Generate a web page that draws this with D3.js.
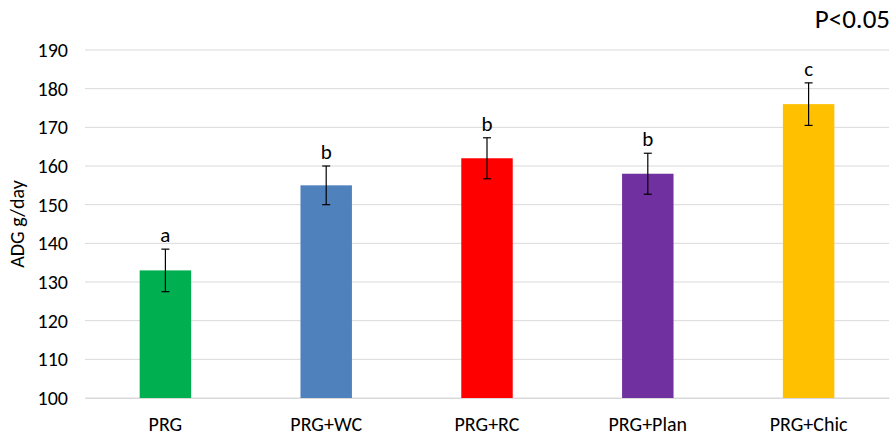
<!DOCTYPE html>
<html>
<head>
<meta charset="utf-8">
<script src="https://cdn.jsdelivr.net/npm/d3@7"></script>
<style>
  body { margin: 0; background: #fff; }
  svg text { font-family: Carlito, Lato, "Open Sans", sans-serif; fill: #000; }
</style>
</head>
<body>
<div id="chart"></div>
<script>
// data
const groups = ["PRG", "PRG+WC", "PRG+RC", "PRG+Plan", "PRG+Chic"];
const adg = [133, 155, 162, 158, 176];
const errors = [5.5, 5, 5.3, 5.3, 5.5];
const letters = ["a", "b", "b", "b", "c"];
const colors = ["#00B050", "#4F81BD", "#FF0000", "#7030A0", "#FFC000"];
const yTicks = [100, 110, 120, 130, 140, 150, 160, 170, 180, 190];

const W = 894, H = 439;
const margin = { top: 50, right: 5, bottom: 41, left: 85 };
const width = W - margin.left - margin.right;
const height = H - margin.top - margin.bottom;

const svg = d3.select("#chart").append("svg")
  .attr("width", W).attr("height", H);

const g = svg.append("g")
  .attr("transform", `translate(${margin.left},${margin.top})`);

const x = d3.scaleBand().domain(groups).range([0, width]).paddingInner(0.68).paddingOuter(0.34);
const y = d3.scaleLinear().domain([100, 190]).range([height, 0]);

// gridlines
g.append("g")
  .selectAll("line")
  .data(yTicks)
  .join("line")
  .attr("x1", 0).attr("x2", width)
  .attr("y1", d => y(d)).attr("y2", d => y(d))
  .attr("stroke", "#d9d9d9").attr("stroke-width", 1);

// y axis labels
const yAxis = d3.axisLeft(y).tickValues(yTicks).tickSize(0).tickPadding(17);
g.append("g").call(yAxis)
  .call(s => s.select(".domain").remove())
  .selectAll("text").style("font-size", "20px");

// bars
g.selectAll("rect.bar")
  .data(groups)
  .join("rect")
  .attr("class", "bar")
  .attr("x", d => x(d))
  .attr("width", x.bandwidth())
  .attr("y", (d, i) => y(adg[i]))
  .attr("height", (d, i) => y(100) - y(adg[i]))
  .attr("fill", (d, i) => colors[i]);

// error bars
const eb = g.append("g").attr("stroke", "#000").attr("stroke-width", 1.2);
groups.forEach((d, i) => {
  const cx = x(d) + x.bandwidth() / 2;
  const t = y(adg[i] + errors[i]), b = y(adg[i] - errors[i]);
  eb.append("line").attr("x1", cx).attr("x2", cx).attr("y1", t).attr("y2", b);
  eb.append("line").attr("x1", cx - 4).attr("x2", cx + 4).attr("y1", t).attr("y2", t);
  eb.append("line").attr("x1", cx - 4).attr("x2", cx + 4).attr("y1", b).attr("y2", b);
});

// significance letters
g.selectAll("text.letter")
  .data(groups)
  .join("text")
  .attr("class", "letter")
  .attr("x", d => x(d) + x.bandwidth() / 2)
  .attr("y", (d, i) => y(adg[i] + errors[i]) - 7)
  .attr("text-anchor", "middle")
  .style("font-size", "21px")
  .text((d, i) => letters[i]);

// x labels
g.append("g")
  .attr("transform", `translate(0,${height})`)
  .call(d3.axisBottom(x).tickSize(0).tickPadding(19))
  .call(s => s.select(".domain").attr("stroke", "#d9d9d9"))
  .selectAll("text").style("font-size", "20px");

// y title
svg.append("text")
  .attr("transform", `translate(24,${margin.top + height / 2}) rotate(-90)`)
  .attr("text-anchor", "middle")
  .style("font-size", "20px")
  .text("ADG g/day");

svg.append("text")
  .attr("x", 890).attr("y", 28)
  .attr("text-anchor", "end")
  .style("font-size", "27px")
  .text("P<0.05");
</script>
</body>
</html>
